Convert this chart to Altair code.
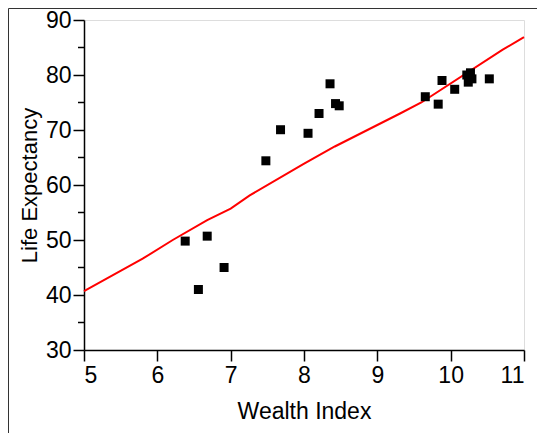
import altair as alt
import pandas as pd

# Data
wealth = [6.38, 6.68, 6.56, 6.91, 7.48, 7.68, 8.055, 8.205, 8.355, 8.43, 8.48,
          9.654, 9.882, 9.83, 10.055, 10.22, 10.27, 10.24, 10.29, 10.527]
life = [49.8, 50.7, 41.0, 45.0, 64.4, 70.05, 69.4, 73.0, 78.4, 74.8, 74.4,
        76.05, 79.0, 74.7, 77.4, 80.0, 80.4, 78.7, 79.3, 79.3]

fit_x = [5.0, 5.8, 6.21, 6.68, 7.0, 7.26, 7.99, 8.42, 9.31, 9.6, 10.71, 11.0]
fit_y = [40.7, 46.6, 50.0, 53.6, 55.7, 58.1, 63.8, 67.0, 73.0, 75.0, 84.6, 86.9]

y_major = [30, 40, 50, 60, 70, 80, 90]
y_minor = [35, 45, 55, 65, 75, 85]
x_major = [5, 6, 7, 8, 9, 10, 11]

pts = pd.DataFrame({"w": wealth, "l": life})
fit = pd.DataFrame({"w": fit_x, "l": fit_y})
minor = pd.DataFrame({"l": y_minor})
one = pd.DataFrame({"l": [0]})

FONT = "Liberation Sans"

xs = alt.Scale(domain=[5, 11], nice=False, zero=False)
ys = alt.Scale(domain=[30, 90], nice=False, zero=False)

xaxis = alt.Axis(values=x_major, format="d", title="Wealth Index", grid=False, tickSize=11,
                 labelPadding=3, titleY=50, titleBaseline="top", titleAlign="center",
                 tickColor="black", domainColor="black",
                 tickWidth=1.5, domainWidth=1.5, labelColor="black", titleColor="black",
                 labelFontSize=23, titleFontSize=23, titleFontWeight="normal",
                 labelFont=FONT, titleFont=FONT)
yaxis = alt.Axis(values=y_major, format="d", title="Life Expectancy", grid=False, tickSize=11,
                 labelPadding=2, titleX=-55, titleY=165, titleAngle=-90,
                 titleAlign="center", titleBaseline="middle",
                 tickColor="black", domainColor="black",
                 tickWidth=1.5, domainWidth=1.5, labelColor="black", titleColor="black",
                 labelFontSize=23, titleFontSize=22, titleFontWeight="normal",
                 labelFont=FONT, titleFont=FONT)

points = alt.Chart(pts).mark_square(size=81, color="black", opacity=1, filled=True).encode(
    x=alt.X("w:Q", scale=xs, axis=xaxis),
    y=alt.Y("l:Q", scale=ys, axis=yaxis),
)

line = alt.Chart(fit).mark_line(color="#ff0000", strokeWidth=2).encode(
    x=alt.X("w:Q", scale=xs),
    y=alt.Y("l:Q", scale=ys),
)

minor_ticks = alt.Chart(minor).mark_rule(color="black", strokeWidth=1.5, clip=False).encode(
    y=alt.Y("l:Q", scale=ys),
    x=alt.value(-6),
    x2=alt.value(0),
)

frame_top = alt.Chart(one).mark_rule(color="#333333", strokeWidth=1, clip=False).encode(
    x=alt.value(-75.5),
    x2=alt.value(453),
    y=alt.value(-11.5),
)
frame_left = alt.Chart(one).mark_rule(color="#333333", strokeWidth=1, clip=False).encode(
    x=alt.value(-75.5),
    y=alt.value(-11.5),
    y2=alt.value(413),
)

chart = alt.layer(frame_top, frame_left, line, points, minor_ticks).properties(
    width=440,
    height=330,
    autosize=alt.AutoSizeParams(type="none"),
    padding={"left": 76, "top": 12, "right": 13, "bottom": 83},
).configure_view(
    stroke="black", strokeWidth=1.5
).configure(background="white")

chart.save("out.html", embed_options={"renderer": "svg", "actions": False})
